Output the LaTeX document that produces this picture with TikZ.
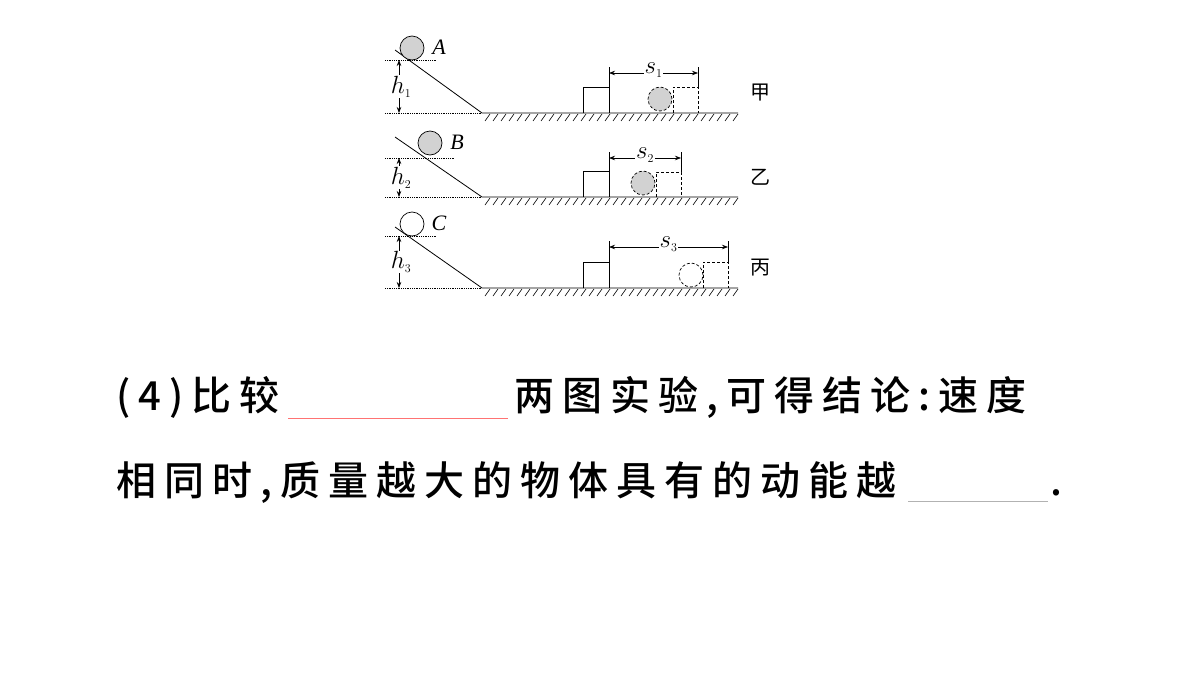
\documentclass[tikz,border=0pt]{standalone}
\usepackage{fontspec}
\setmainfont{Liberation Serif}
\newfontfamily\cjk{Noto Sans CJK SC}
\newfontfamily\cjkb[LetterSpace=20]{Noto Sans CJK SC Medium}
\usetikzlibrary{arrows.meta}
\tikzset{
  dotline/.style={densely dotted, line width=0.8pt},
  dimarrow/.style={{Stealth[length=6pt]}-{Stealth[length=6pt]}, line width=0.7pt},
  ball/.style={circle, draw, line width=0.7pt, minimum size=24pt, inner sep=0pt},
  blank/.style={draw=red!40!pink, line width=0.9pt},
  small/.style={font=\fontsize{24}{24}\selectfont},
  bigtext/.style={font=\fontsize{40}{40}\selectfont\cjkb, inner sep=0pt, anchor=base west}
}
\begin{document}
\begin{tikzpicture}[x=1pt, y=-1pt, line width=0.8pt]
  \useasboundingbox (0,0) rectangle (1200,675);
  % panels: ground, top, incline top, ball x, ball y, letter, fill, moved ball x, moved ball y, box right, box top, arrow y, index, name
  \foreach \g/\t/\iy/\bx/\by/\lab/\fl/\mx/\my/\rr/\bt/\ay/\n/\nm in
      {113/60/50/412/48/A/gray!35/660/99/698/87/73/1/甲,
       197/158/137/430/143/B/gray!35/643/183/681/172/158/2/乙,
       288/236/227/412/224/C/white/691/275/728/262/247/3/丙}{
    % incline and ground
    \draw (395,\iy) -- (482,\g) -- (738,\g);
    \foreach \hx in {490,498,...,738}
      \draw[line width=0.6pt] (\hx,\g+1) -- (\hx-5,\g+8);
    % height mark
    \draw[dotline] (385,\t) -- (\bx+25,\t);
    \draw[dotline] (385,\g) -- (482,\g);
    \draw[dimarrow] (399,\t) -- (399,\g);
    \node[fill=white, inner sep=0.5pt, small] (h\n) at (401,{(\t+\g)/2})
      {$h_{\scriptscriptstyle\n}$};
    % ball at the top
    \node[ball, fill=\fl] (ball\n) at (\bx,\by) {};
    \node[font=\fontsize{22}{22}\selectfont\itshape] (lab\n) at (\bx+27,\by-1) {\lab};
    % block before and after
    \draw (583,\g) -- (583,87-113+\g) -- (609,87-113+\g) -- (609,\g);
    \draw[densely dashed, line width=0.7pt] (\rr-25,\g) -- (\rr-25,\bt) -- (\rr,\bt) -- (\rr,\g);
    \node[ball, densely dashed, fill=\fl] (moved\n) at (\mx,\my) {};
    % distance
    \draw[line width=0.7pt] (609,\bt) -- (609,\ay-6);
    \draw[line width=0.7pt] (\rr,\bt) -- (\rr,\ay-6);
    \draw[dimarrow] (609,\ay) -- (\rr,\ay);
    \node[fill=white, inner sep=1pt, small] (s\n) at ({(609+\rr)/2},\ay-3)
      {$s_{\scriptscriptstyle\n}$};
    \node[font=\fontsize{20}{20}\selectfont\cjk] (name\n) at (760,\g-20) {\nm};
  }
  % question text
  \node[bigtext] (q1) at (116,410) {(4)比较};
  \node[bigtext] (q2) at (514,410) {两图实验,可得结论:速度};
  \node[bigtext] (q3) at (116,495) {相同时,质量越大的物体具有的动能越};
  \node[bigtext] (q4) at (1050,495) {.};
  \coordinate (b1) at (288,418);
  \coordinate (b2) at (508,418);
  \coordinate (b3) at (908,501);
  \coordinate (b4) at (1048,501);
  \draw[blank] (b1) -- (b2);
  \draw[blank, draw=gray!60] (b3) -- (b4);
\end{tikzpicture}
\end{document}
